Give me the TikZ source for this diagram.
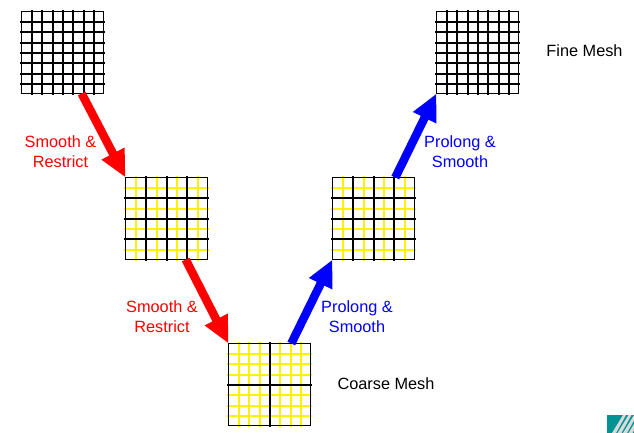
\documentclass[tikz,border=0pt]{standalone}
\usepackage{fontspec}
\setmainfont{Liberation Sans}
\usetikzlibrary{arrows.meta}

\tikzset{
    pics/meshlines/.style 2 args={
      code={
        \foreach \i in {#2} {
          \draw[#1, line width=2.2pt] (\i,-42.5) -- (\i,42.5);
          \draw[#1, line width=2.2pt] (-42.5,\i) -- (42.5,\i);
        }
      }
    }
  }
\tikzset{
    meshbox/.style={draw=black, line width=1pt, minimum size=82pt, inner sep=0pt, outer sep=0pt},
    redarrow/.style={draw=red, line width=8.5pt, -{Triangle[length=27pt,width=24pt]}},
    bluearrow/.style={draw=blue, line width=8.5pt, -{Triangle[length=27pt,width=24pt]}},
    redlabel/.style={text=red, align=center, font=\fontsize{16.3}{20}\selectfont},
    bluelabel/.style={text=blue, align=center, font=\fontsize{16.3}{20}\selectfont},
    meshlabel/.style={text=black, font=\fontsize{16.3}{20}\selectfont}
  }

\begin{document}
\begin{tikzpicture}[x=1pt, y=-1pt]
    \useasboundingbox (0,0) rectangle (634,433);

    % fine level
    \draw (62.5,52.5) pic{meshlines={black}{-30.5,-20.5,-9.5,0.5,10.5,21.5,31.5}};
    \node[meshbox] (fineleft) at (62.5,52.5) {};
    \draw (477.5,52.5) pic{meshlines={black}{-30.5,-20.5,-9.5,0.5,10.5,21.5,31.5}};
    \node[meshbox] (fineright) at (477.5,52.5) {};

    % medium level
    \draw (166.5,218.5) pic{meshlines={yellow}{-30.5,-9.5,10.5,31.5}};
    \draw (166.5,218.5) pic{meshlines={black}{-20.5,0.5,20.5}};
    \node[meshbox] (medleft) at (166.5,218.5) {};
    \draw (373.5,218.5) pic{meshlines={yellow}{-30.5,-9.5,10.5,31.5}};
    \draw (373.5,218.5) pic{meshlines={black}{-20.5,0.5,20.5}};
    \node[meshbox] (medright) at (373.5,218.5) {};

    % coarse level
    \draw (269.5,384.5) pic{meshlines={yellow}{-30.5,-20.5,-9.5,10.5,21.5,31.5}};
    \draw (269.5,384.5) pic{meshlines={black}{0.5}};
    \node[meshbox] (coarse) at (269.5,384.5) {};

    \draw[redarrow] (fineleft.-65) -- (medleft.north west);
    \draw[redarrow] (medleft.-65) -- (coarse.north west);
    \draw[bluearrow] (coarse.62) -- (medright.south west);
    \draw[bluearrow] (medright.62) -- (fineright.south west);

    \node[redlabel] (smoothone) at (60.5,152) {Smooth \&\\Restrict};
    \node[redlabel] (smoothtwo) at (162,316.5) {Smooth \&\\Restrict};
    \node[bluelabel] (prolongone) at (357,316.5) {Prolong \&\\Smooth};
    \node[bluelabel] (prolongtwo) at (460,152) {Prolong \&\\Smooth};

    \node[meshlabel] (finelabel) at (584.5,51) {Fine Mesh};
    \node[meshlabel] (coarselabel) at (386,384) {Coarse Mesh};

    % logo in the corner
    \fill[teal!85!cyan] (607,415) rectangle (634,433);
    \foreach \i in {0,1,2,3} {
      \fill[white!85!black] (612+5.5*\i,433) -- (616+5.5*\i,433) -- (626+5.5*\i,415) -- (623+5.5*\i,415) -- cycle;
    }
  \end{tikzpicture}
\end{document}
